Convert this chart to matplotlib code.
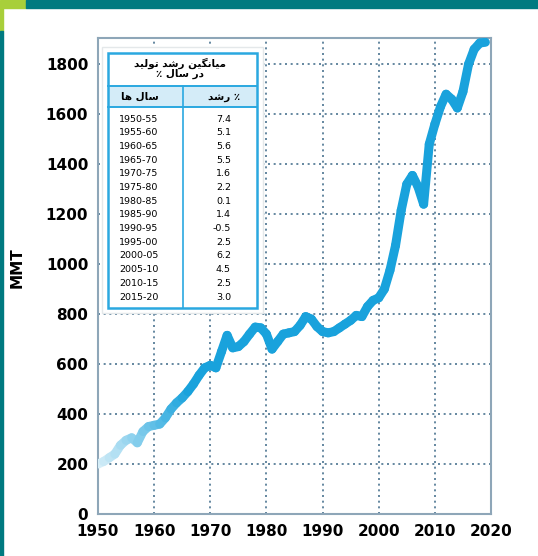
import numpy as np
import matplotlib.pyplot as plt
from matplotlib.collections import LineCollection
from matplotlib.patches import Rectangle
from matplotlib.colors import to_rgb

# production (MMT)
years = list(range(1950, 2020))
mmt = [200, 210, 225, 240, 275, 295, 305, 285, 330, 350,
       355, 360, 385, 420, 445, 465, 490, 520, 555, 585,
       595, 585, 650, 715, 665, 670, 690, 720, 748, 745,
       720, 660, 690, 720, 725, 730, 755, 790, 780, 750,
       730, 725, 730, 745, 760, 775, 795, 790, 830, 855,
       865, 900, 975, 1075, 1215, 1320, 1355, 1310, 1240, 1480,
       1560, 1630, 1680, 1660, 1625, 1690, 1800, 1860, 1885, 1888]

periods = ['1950-55', '1955-60', '1960-65', '1965-70', '1970-75', '1975-80', '1980-85',
           '1985-90', '1990-95', '1995-00', '2000-05', '2005-10', '2010-15', '2015-20']
growth = ['7.4', '5.1', '5.6', '5.5', '1.6', '2.2', '0.1',
          '1.4', '-0.5', '2.5', '6.2', '4.5', '2.5', '3.0']

xticks = [1950, 1960, 1970, 1980, 1990, 2000, 2010, 2020]
yticks = list(range(0, 2000, 200))


def fa(s):
    # text already in presentation forms, logical order -> visual order
    return s[::-1]


title1 = fa('\uFEE3\uFBFF\uFE8E\uFEE7\uFB95\uFBFF\uFEE6 \uFEAD\uFEB7\uFEAA \uFE97\uFEEE\uFEDF\uFBFF\uFEAA')
title2 = fa('\uFEA9\uFEAD \uFEB3\uFE8E\uFEDD \u066A')
col1 = fa('\uFEB3\uFE8E\uFEDD \uFEEB\uFE8E')
col2 = fa('\u066A \uFEAD\uFEB7\uFEAA')

W, H = 538, 556
fig = plt.figure(figsize=(W / 100, H / 100), dpi=100)

# frame bars
fig.patches.append(Rectangle((0, 1 - 8 / H), 26 / W, 8 / H, transform=fig.transFigure, color='#a8cf3a', zorder=0))
fig.patches.append(Rectangle((26 / W, 1 - 8 / H), 1, 8 / H, transform=fig.transFigure, color='#007a80', zorder=0))
fig.patches.append(Rectangle((0, 1 - 31 / H), 3 / W, 23 / H, transform=fig.transFigure, color='#a8cf3a', zorder=0))
fig.patches.append(Rectangle((0, 0), 3 / W, 1 - 31 / H, transform=fig.transFigure, color='#007a80', zorder=0))

ax = fig.add_axes([98 / W, (H - 514) / H, (491 - 98) / W, (514 - 38) / H])
ax.set_xlim(1950, 2019.3)
ax.set_ylim(0, 1905)

# line with a faded start
x = np.array(years, dtype=float)
y = np.array(mmt, dtype=float)
pts = np.column_stack([x, y]).reshape(-1, 1, 2)
segs = np.concatenate([pts[:-1], pts[1:]], axis=1)
c0 = np.array(to_rgb('#d6eef8'))
c1 = np.array(to_rgb('#19a2dc'))
cols = []
for i in range(len(segs)):
    t = min(1.0, (x[i] - 1950) / 16.0)
    cols.append(c0 * (1 - t) + c1 * t)
lc = LineCollection(segs, colors=cols, linewidths=6.5, capstyle='round', joinstyle='round', zorder=3)
ax.add_collection(lc)

ax.set_xticks(xticks)
ax.set_yticks(yticks)
ax.grid(True, color='#4a7390', linestyle=(0, (1.2, 2.2)), linewidth=1.2, zorder=1)
ax.set_axisbelow(True)
ax.tick_params(length=0, pad=7, labelsize=11)
for lab in ax.get_xticklabels() + ax.get_yticklabels():
    lab.set_fontweight('bold')
for sp in ax.spines.values():
    sp.set_color('#8ea6b8')
    sp.set_linewidth(1.5)
ax.set_ylabel('MMT', fontsize=11, fontweight='bold')
ax.yaxis.set_label_coords((25 - 98) / 393, (514 - 268) / 476)


def ax_pt(px, py):
    return ((px - 98) / 393, (514 - py) / 476)


def box(x0, y0, x1, y1, **kw):
    a = ax_pt(x0, y1)
    b = ax_pt(x1, y0)
    ax.add_patch(Rectangle(a, b[0] - a[0], b[1] - a[1], transform=ax.transAxes, **kw))


# table
box(102, 47, 263, 313, facecolor='white', edgecolor='#e4e8ea', linewidth=1, zorder=4)
box(108, 86, 257, 107, facecolor='#d4ecf8', edgecolor='none', zorder=5)
box(108, 53, 257, 308, facecolor='none', edgecolor='#2aa8e0', linewidth=1.8, zorder=6)
for yy in (86, 107):
    a, b = ax_pt(108, yy), ax_pt(257, yy)
    ax.plot([a[0], b[0]], [a[1], b[1]], transform=ax.transAxes, color='#2aa8e0', lw=1.4, zorder=6)
a, b = ax_pt(183, 86), ax_pt(183, 308)
ax.plot([a[0], b[0]], [a[1], b[1]], transform=ax.transAxes, color='#2aa8e0', lw=1.2, zorder=6)

tp = dict(transform=ax.transAxes, zorder=7, family=['DejaVu Sans'])
ax.text(*ax_pt(180, 63), title1, ha='center', va='center', fontsize=7.5, fontweight='bold', **tp)
ax.text(*ax_pt(180, 74), title2, ha='center', va='center', fontsize=7.5, fontweight='bold', **tp)
ax.text(*ax_pt(140, 97), col1, ha='center', va='center', fontsize=7.5, fontweight='bold', **tp)
ax.text(*ax_pt(224, 97), col2, ha='center', va='center', fontsize=7.5, fontweight='bold', **tp)
for i, (p, g) in enumerate(zip(periods, growth)):
    ry = 119 + i * 13.7
    ax.text(*ax_pt(119, ry), p, ha='left', va='center', fontsize=6.8, **tp)
    ax.text(*ax_pt(231, ry), g, ha='right', va='center', fontsize=6.8, **tp)

fig.savefig('out.png', dpi=100)
